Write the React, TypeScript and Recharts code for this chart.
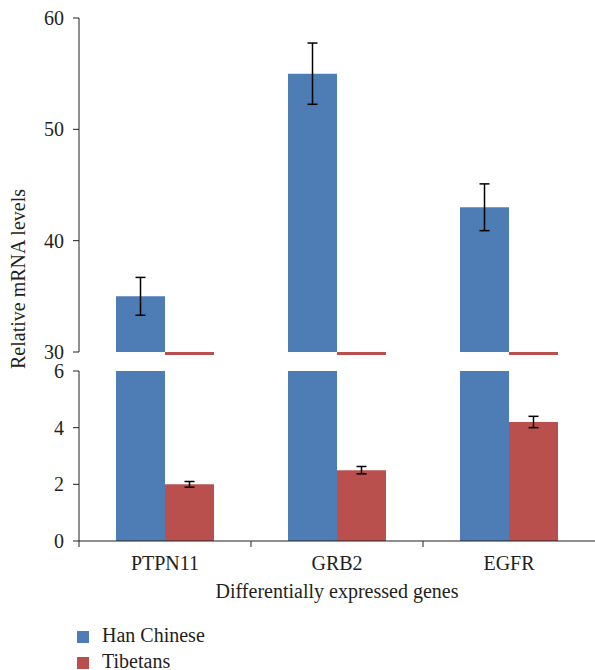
import { BarChart, Bar, XAxis, YAxis, ErrorBar } from "recharts";

const genes = ["PTPN11", "GRB2", "EGFR"];
const hanChinese = [35, 55, 43];
const hanChineseErr = [1.7, 2.75, 2.1];
const tibetans = [2.0, 2.5, 4.2];
const tibetansErr = [0.1, 0.13, 0.2];
const upperTicks = [30, 40, 50, 60];
const lowerTicks = [0, 2, 4, 6];
const seriesNames = ["Han Chinese", "Tibetans"];

const BLUE = "#4E7CB4";
const RED = "#B9504D";
const INK = "#231F20";
const FONT = '"Liberation Serif", "Times New Roman", serif';

const W = 595;
const PLOT_LEFT = 79;
const HALF_BAND = (W - PLOT_LEFT) / genes.length / 2;
// lower chart is placed at page y=360, its plot bottom sits at 541
const LOWER_TOP = 360;
const LOWER_AXIS_Y = 541 - LOWER_TOP;

const data = genes.map((gene, i) => ({
  gene,
  han: hanChinese[i],
  hanErr: hanChineseErr[i],
  tib: tibetans[i],
  tibErr: tibetansErr[i],
}));

const tickStyle = { fill: INK, fontSize: 20, fontFamily: FONT };

// red bars fall below the upper panel's range: show only a thin strip at its base
const BaseStrip = (props: any) => (
  <rect x={props.x} y={props.y + props.height} width={props.width} height={3} fill={RED} />
);

const GeneTick = (props: any) => {
  const { x, payload } = props;
  const bx = x - HALF_BAND;
  return (
    <g>
      <line x1={bx} x2={bx} y1={LOWER_AXIS_Y} y2={LOWER_AXIS_Y + 6} stroke={INK} />
      <text x={x} y={LOWER_AXIS_Y + 29} textAnchor="middle" fill={INK} fontSize={20} fontFamily={FONT}>
        {payload.value}
      </text>
    </g>
  );
};

export default function App() {
  return (
    <div style={{ position: "absolute", left: 0, top: 0, width: W, height: 670, background: "#fff", fontFamily: FONT }}>
      <div style={{ position: "absolute", left: 0, top: 0 }}>
        <BarChart width={W} height={372} data={data} margin={{ top: 18, right: 0, bottom: 20, left: 0 }} barGap={0} barSize={49}>
          <XAxis dataKey="gene" hide />
          <YAxis
            yAxisId="main"
            width={PLOT_LEFT}
            domain={[30, 60]}
            ticks={upperTicks}
            interval={0}
            tick={tickStyle}
            tickSize={6}
            tickMargin={9}
            axisLine={{ stroke: INK }}
            tickLine={{ stroke: INK }}
          />
          <YAxis yAxisId="base" hide orientation="right" width={0} domain={[0, 6]} />
          <Bar yAxisId="main" dataKey="han" fill={BLUE} isAnimationActive={false}>
            <ErrorBar dataKey="hanErr" width={5} stroke="#000" strokeWidth={1.5} />
          </Bar>
          <Bar yAxisId="base" dataKey="tib" fill={RED} isAnimationActive={false} shape={BaseStrip} />
        </BarChart>
      </div>

      <div style={{ position: "absolute", left: 0, top: LOWER_TOP }}>
        <BarChart width={W} height={250} data={data} margin={{ top: 11, right: 0, bottom: 0, left: 0 }} barGap={0} barSize={49}>
          <XAxis
            dataKey="gene"
            height={69}
            interval={0}
            axisLine={{ stroke: INK }}
            tickLine={false}
            tick={<GeneTick />}
            label={{
              value: "Differentially expressed genes",
              position: "insideBottom",
              offset: 12,
              fill: INK,
              fontSize: 20,
              fontFamily: FONT,
            }}
          />
          <YAxis
            width={PLOT_LEFT}
            domain={[0, 6]}
            allowDataOverflow
            ticks={lowerTicks}
            interval={0}
            tick={tickStyle}
            tickSize={6}
            tickMargin={9}
            axisLine={{ stroke: INK }}
            tickLine={{ stroke: INK }}
          />
          <Bar dataKey="han" fill={BLUE} isAnimationActive={false} />
          <Bar dataKey="tib" fill={RED} isAnimationActive={false}>
            <ErrorBar dataKey="tibErr" width={5} stroke="#000" strokeWidth={1.5} />
          </Bar>
        </BarChart>
      </div>

      <svg width={40} height={670} style={{ position: "absolute", left: 0, top: 0 }}>
        <text transform="translate(25, 279) rotate(-90)" textAnchor="middle" fill={INK} fontSize={20} fontFamily={FONT}>
          Relative mRNA levels
        </text>
      </svg>

      <svg width={W} height={60} style={{ position: "absolute", left: 0, top: 610 }}>
        {seriesNames.map((name, i) => (
          <g key={name}>
            <rect x={77} y={21 + i * 26} width={12} height={12} fill={i === 0 ? BLUE : RED} />
            <text x={102} y={32 + i * 26} fill={INK} fontSize={20} fontFamily={FONT}>
              {name}
            </text>
          </g>
        ))}
      </svg>
    </div>
  );
}
